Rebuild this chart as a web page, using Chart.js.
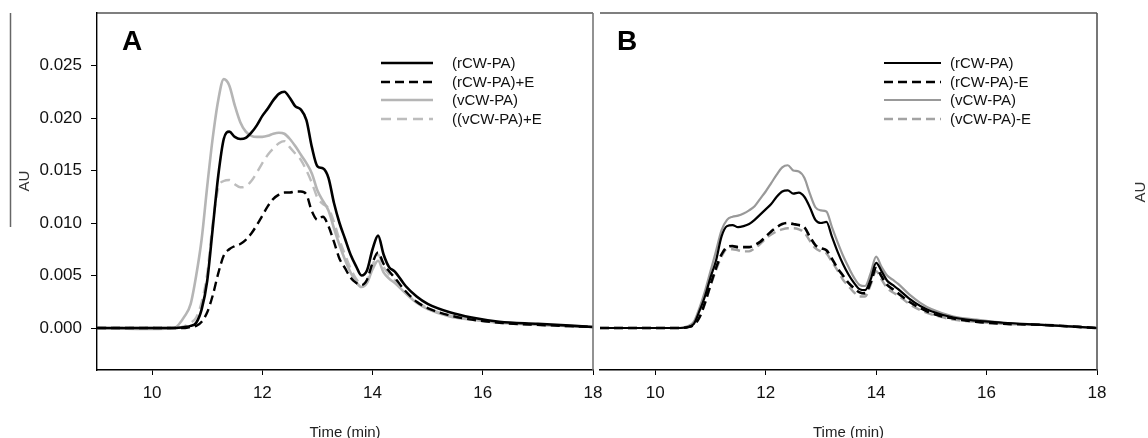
<!DOCTYPE html>
<html>
<head>
<meta charset="utf-8">
<script src="https://cdn.jsdelivr.net/npm/chart.js@4"></script>
<style>
  html, body { margin: 0; padding: 0; background: #fff; }
  #wrap { position: relative; width: 1148px; height: 438px; overflow: hidden; }
  #boxA { position: absolute; left: 0; top: 0; }
  #boxB { position: absolute; left: 596px; top: 0; }
</style>
</head>
<body>
<div id="wrap">
  <div id="boxA"><canvas id="chartA" width="620" height="438"></canvas></div>
  <div id="boxB"><canvas id="chartB" width="552" height="438"></canvas></div>
</div>
<script>
// time axis (min), shared by every trace
var times = [9, 10, 10.4, 10.6, 10.7, 10.8, 10.9, 11.0, 11.1, 11.2, 11.3, 11.4, 11.5, 11.6, 11.7, 11.8, 11.9,
  12.0, 12.1, 12.2, 12.3, 12.4, 12.5, 12.6, 12.7, 12.8, 12.9, 13.0, 13.1, 13.2, 13.3, 13.4, 13.5, 13.6, 13.7,
  13.8, 13.9, 14.0, 14.1, 14.2, 14.3, 14.4, 14.6, 14.8, 15.0, 15.4, 15.8, 16.3, 17.0, 18.0];

// panel A
var labelsA = ['(rCW-PA)', '(rCW-PA)+E', '(vCW-PA)', '((vCW-PA)+E'];
var rA = [0, 0, 0, 0.0001, 0.0002, 0.0005, 0.0018, 0.0045, 0.0095, 0.0145, 0.0180, 0.0187, 0.0182, 0.0180, 0.0181, 0.0186, 0.0193,
  0.0202, 0.0209, 0.0217, 0.0223, 0.0225, 0.0219, 0.0211, 0.0208, 0.0198, 0.0172, 0.0154, 0.0152, 0.0143, 0.0119, 0.0100, 0.0085, 0.0070, 0.0059,
  0.0050, 0.0055, 0.0075, 0.0088, 0.0070, 0.0058, 0.0054, 0.0040, 0.0030, 0.0023, 0.0015, 0.0010, 0.0006, 0.0004, 0.0001];
var rAE = [0, 0, 0, 0, 0.0001, 0.0002, 0.0006, 0.0015, 0.0031, 0.0052, 0.0069, 0.0075, 0.0078, 0.0080, 0.0084, 0.0090, 0.0098,
  0.0107, 0.0116, 0.0123, 0.0127, 0.0129, 0.0129, 0.0130, 0.0130, 0.0127, 0.0111, 0.0103, 0.0106, 0.0097, 0.0082, 0.0066, 0.0057, 0.0048, 0.0043,
  0.0041, 0.0046, 0.0062, 0.0072, 0.0061, 0.0054, 0.0048, 0.0035, 0.0025, 0.0019, 0.0012, 0.0008, 0.0005, 0.0003, 0.0001];
var vA = [0, -0.0001, 0, 0.0012, 0.0023, 0.0050, 0.0085, 0.0135, 0.0181, 0.0217, 0.0237, 0.0231, 0.0212, 0.0196, 0.0187, 0.0183, 0.0182,
  0.0182, 0.0183, 0.0185, 0.0186, 0.0185, 0.0180, 0.0173, 0.0165, 0.0157, 0.0147, 0.0131, 0.0121, 0.0112, 0.0095, 0.0079, 0.0065, 0.0053, 0.0044,
  0.0039, 0.0043, 0.0056, 0.0064, 0.0053, 0.0047, 0.0043, 0.0033, 0.0024, 0.0018, 0.0011, 0.0008, 0.0005, 0.0003, 0.0001];
var vAE = [0, 0, 0, 0.0002, 0.0005, 0.0010, 0.0025, 0.0052, 0.0100, 0.0133, 0.0140, 0.0141, 0.0137, 0.0134, 0.0135, 0.0140, 0.0148,
  0.0157, 0.0165, 0.0171, 0.0176, 0.0178, 0.0172, 0.0166, 0.0160, 0.0150, 0.0138, 0.0124, 0.0118, 0.0114, 0.0101, 0.0084, 0.0070, 0.0057, 0.0047,
  0.0042, 0.0045, 0.0060, 0.0070, 0.0058, 0.0051, 0.0046, 0.0034, 0.0025, 0.0019, 0.0012, 0.0008, 0.0005, 0.0003, 0.0001];

// panel B
var labelsB = ['(rCW-PA)', '(rCW-PA)-E', '(vCW-PA)', '(vCW-PA)-E'];
var rB = [0, 0, 0, 0.0001, 0.0004, 0.0016, 0.0030, 0.0048, 0.0064, 0.0087, 0.0097, 0.0098, 0.0096, 0.0097, 0.0099, 0.0103, 0.0108,
  0.0113, 0.0118, 0.0125, 0.0130, 0.0131, 0.0128, 0.0129, 0.0125, 0.0115, 0.0103, 0.0100, 0.0101, 0.0087, 0.0073, 0.0061, 0.0051, 0.0043, 0.0037,
  0.0036, 0.0046, 0.0062, 0.0054, 0.0045, 0.0041, 0.0037, 0.0028, 0.0021, 0.0016, 0.0010, 0.0007, 0.0005, 0.0003, 0];
var rBE = [0, 0, 0, 0.0001, 0.0003, 0.0010, 0.0024, 0.0041, 0.0057, 0.0070, 0.0077, 0.0078, 0.0077, 0.0077, 0.0077, 0.0079, 0.0082,
  0.0087, 0.0092, 0.0096, 0.0099, 0.0100, 0.0099, 0.0098, 0.0096, 0.0087, 0.0079, 0.0076, 0.0074, 0.0066, 0.0057, 0.0050, 0.0043, 0.0038, 0.0034,
  0.0033, 0.0043, 0.0057, 0.0049, 0.0041, 0.0037, 0.0033, 0.0025, 0.0019, 0.0014, 0.0009, 0.0006, 0.0004, 0.0003, 0];
var vB = [0, 0, 0, 0.0002, 0.0006, 0.0019, 0.0035, 0.0054, 0.0073, 0.0093, 0.0103, 0.0106, 0.0107, 0.0109, 0.0112, 0.0116, 0.0123,
  0.0130, 0.0138, 0.0146, 0.0153, 0.0155, 0.0150, 0.0149, 0.0143, 0.0128, 0.0115, 0.0112, 0.0111, 0.0096, 0.0082, 0.0069, 0.0058, 0.0048, 0.0041,
  0.0040, 0.0052, 0.0068, 0.0058, 0.0050, 0.0046, 0.0042, 0.0032, 0.0024, 0.0018, 0.0011, 0.0008, 0.0005, 0.0003, 0];
var vBE = [0, 0, 0, 0.0001, 0.0003, 0.0010, 0.0023, 0.0040, 0.0055, 0.0068, 0.0075, 0.0075, 0.0074, 0.0073, 0.0073, 0.0076, 0.0080,
  0.0085, 0.0089, 0.0092, 0.0094, 0.0095, 0.0095, 0.0094, 0.0091, 0.0083, 0.0076, 0.0073, 0.0071, 0.0063, 0.0055, 0.0046, 0.0040, 0.0034, 0.0030,
  0.0030, 0.0041, 0.0054, 0.0046, 0.0038, 0.0034, 0.0031, 0.0023, 0.0017, 0.0013, 0.0008, 0.0006, 0.0004, 0.0003, 0];

var xTicks = [10, 12, 14, 16, 18];
var yTicks = [0, 0.005, 0.010, 0.015, 0.020, 0.025];

var FONT = '"Liberation Sans", Arial, sans-serif';

function pts(vals) {
  return times.map((t, i) => ({x: t, y: vals[i]}));
}

function line(label, vals, color, width, dash) {
  return {
    label: label,
    data: pts(vals),
    borderColor: color,
    borderWidth: width,
    borderDash: dash,
    pointRadius: 0,
    tension: 0.4,
    cubicInterpolationMode: 'monotone',
    fill: false
  };
}

// frame, panel letter, legend and side texts
var decor = {
  id: 'decor',
  afterDraw(chart, args, o) {
    var ctx = chart.ctx, a = chart.chartArea;
    ctx.save();
    ctx.lineWidth = 1.2;
    ctx.strokeStyle = '#000';
    ctx.beginPath();
    ctx.moveTo(a.left, a.top);
    ctx.lineTo(a.right, a.top);
    ctx.stroke();
    ctx.strokeStyle = o.rightColor;
    ctx.lineWidth = 1.6;
    ctx.beginPath();
    ctx.moveTo(a.right, a.top);
    ctx.lineTo(a.right, a.bottom);
    ctx.stroke();

    ctx.fillStyle = '#000';
    ctx.font = 'bold 28px ' + FONT;
    ctx.textBaseline = 'alphabetic';
    ctx.textAlign = 'left';
    ctx.fillText(o.letter, o.letterX, 50);

    ctx.font = '15px ' + FONT;
    ctx.textBaseline = 'middle';
    chart.data.datasets.forEach((ds, i) => {
      var y = o.rows[i];
      ctx.strokeStyle = ds.borderColor;
      ctx.lineWidth = ds.borderWidth;
      ctx.setLineDash(ds.borderDash || []);
      ctx.beginPath();
      ctx.moveTo(o.lx0, y);
      ctx.lineTo(o.lx1, y);
      ctx.stroke();
      ctx.setLineDash([]);
      ctx.fillStyle = '#111';
      ctx.fillText(ds.label, o.tx, y + 1);
    });

    if (o.sideLine) {
      ctx.strokeStyle = '#666';
      ctx.lineWidth = 1.5;
      ctx.beginPath();
      ctx.moveTo(o.sideLine[0], o.sideLine[1]);
      ctx.lineTo(o.sideLine[0], o.sideLine[2]);
      ctx.stroke();
    }
    ctx.translate(o.au[0], o.au[1]);
    ctx.rotate(-Math.PI / 2);
    ctx.textAlign = 'center';
    ctx.fillStyle = '#333';
    ctx.font = '15px ' + FONT;
    ctx.fillText('AU', 0, 0);
    ctx.restore();
  }
};

function xScale() {
  return {
    type: 'linear',
    min: 9,
    max: 18,
    afterBuildTicks: s => { s.ticks = xTicks.map(v => ({value: v})); },
    afterFit: s => { s.height = 68; s.paddingLeft = 0; s.paddingRight = 0; },
    grid: {display: true, drawOnChartArea: false, drawTicks: true, tickLength: 5, color: '#000', lineWidth: 1},
    border: {display: true, color: '#000', width: 1.4},
    ticks: {color: '#111', font: {family: FONT, size: 17}, padding: 8, maxRotation: 0, callback: v => String(v)},
    title: {display: true, text: 'Time (min)', color: '#222', font: {family: FONT, size: 15, lineHeight: 1}, padding: {top: 0, bottom: -2}}
  };
}

function yScale(show) {
  return {
    type: 'linear',
    display: show,
    min: -0.004,
    max: 0.030,
    afterBuildTicks: s => { s.ticks = yTicks.map(v => ({value: v})); },
    afterFit: s => { s.width = show ? 97 : 0; s.paddingTop = 0; s.paddingBottom = 0; },
    grid: {display: true, drawOnChartArea: false, drawTicks: true, tickLength: 6, color: '#000', lineWidth: 1},
    border: {display: true, color: '#000', width: 1.4},
    ticks: {color: '#111', font: {family: FONT, size: 17}, padding: 9, callback: v => v.toFixed(3)}
  };
}

var common = {
  responsive: false,
  animation: false,
  devicePixelRatio: 1,
  plugins: {legend: {display: false}, tooltip: {enabled: false}}
};

new Chart(document.getElementById('chartA'), {
  type: 'line',
  data: {
    datasets: [
      line(labelsA[0], rA, '#000000', 2.6, []),
      line(labelsA[1], rAE, '#000000', 2.4, [9, 5]),
      line(labelsA[2], vA, '#b5b5b5', 2.6, []),
      line(labelsA[3], vAE, '#bdbdbd', 2.4, [10, 6])
    ]
  },
  options: Object.assign({}, common, {
    layout: {padding: {top: 13, right: 27, left: 0, bottom: 0}},
    scales: {x: xScale(), y: yScale(true)},
    plugins: Object.assign({}, common.plugins, {
      decor: {letter: 'A', letterX: 122, rightColor: '#777', rows: [63, 82, 100, 119],
        lx0: 381, lx1: 433, tx: 452, au: [25, 181], sideLine: [10.5, 13, 227]}
    })
  }),
  plugins: [decor]
});

new Chart(document.getElementById('chartB'), {
  type: 'line',
  data: {
    datasets: [
      line(labelsB[0], rB, '#000000', 2.2, []),
      line(labelsB[1], rBE, '#000000', 2.6, [9, 5]),
      line(labelsB[2], vB, '#999999', 2.2, []),
      line(labelsB[3], vBE, '#a3a3a3', 2.4, [9, 5])
    ]
  },
  options: Object.assign({}, common, {
    layout: {padding: {top: 13, right: 51, left: 4, bottom: 0}},
    scales: {x: xScale(), y: yScale(false)},
    plugins: Object.assign({}, common.plugins, {
      decor: {letter: 'B', letterX: 21, rightColor: '#555', rows: [63, 82, 100, 119],
        lx0: 288, lx1: 345, tx: 354, au: [545, 192]}
    })
  }),
  plugins: [decor]
});
</script>
</body>
</html>
